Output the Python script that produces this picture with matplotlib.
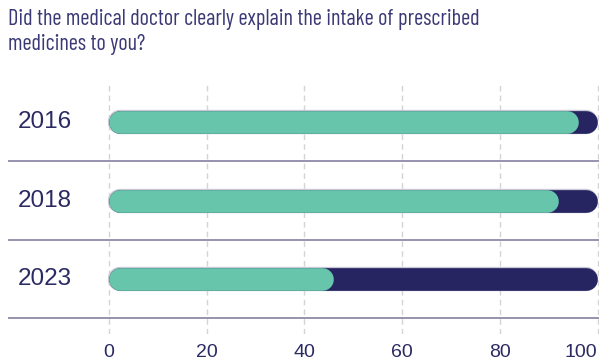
import matplotlib.pyplot as plt

years = ["2016", "2018", "2023"]
yes_share = [96, 92, 46]
total = 100
ticks = [0, 20, 40, 60, 80, 100]

title = "Did the medical doctor clearly explain the intake of prescribed\nmedicines to you?"

green = "#66c5ab"
navy = "#262561"
text_col = "#2b2a63"
sep_col = "#8e8aa8"

W, H, DPI = 599, 363, 100
fig = plt.figure(figsize=(W / DPI, H / DPI), dpi=DPI)

# pixel layout: x=0 at 109px, x=100 at 597.5px
px_per_unit = (597.5 - 109) / 100
x_left = (8 - 109) / px_per_unit
x_right = (599 - 109) / px_per_unit
ax = fig.add_axes([8 / W, 1 - 334 / H, (599 - 8) / W, (334 - 83) / H])
ax.set_xlim(x_left, x_right)
ax.set_ylim(2.7, -0.5)

for s in ax.spines.values():
    s.set_visible(False)

# dashed vertical grid at the tick positions
for t in ticks:
    ax.axvline(t, color="#d4d4d4", lw=1, ls=(0, (4, 3)), zorder=0)

# row separators
for i in range(len(years)):
    ax.axhline(i + 0.5, color=sep_col, lw=1.3, zorder=1)

# rounded bars drawn as thick lines with round caps
bar_px = 22.7
lw_pt = bar_px * 72 / DPI
r = (bar_px / 2) / px_per_unit
for i, (yr, v) in enumerate(zip(years, yes_share)):
    ax.plot([r, total - r], [i, i], color="#c9c8d4", lw=lw_pt + 1.2,
            solid_capstyle="round", zorder=2)
    ax.plot([r, total - r], [i, i], color=navy, lw=lw_pt,
            solid_capstyle="round", zorder=3)
    ax.plot([r, v - r], [i, i], color=green, lw=lw_pt,
            solid_capstyle="round", zorder=4)
    ax.text(x_left + 10 / px_per_unit, i, yr, ha="left", va="center",
            fontsize=17.5, color=text_col, family="Liberation Sans")

ax.set_xticks(ticks)
labels = ax.set_xticklabels([str(t) for t in ticks], fontsize=14, color=text_col,
                            family="Liberation Sans")
labels[-1].set_ha("right")
ax.tick_params(axis="x", length=0, pad=7.5)
ax.set_yticks([])

fig.text(8 / W, 1 - 9 / H, title, ha="left", va="top", fontsize=16,
         color="#3a3976", family=["Barlow Condensed", "DejaVu Sans"],
         linespacing=1.22)

fig.savefig("out.png", dpi=DPI)
